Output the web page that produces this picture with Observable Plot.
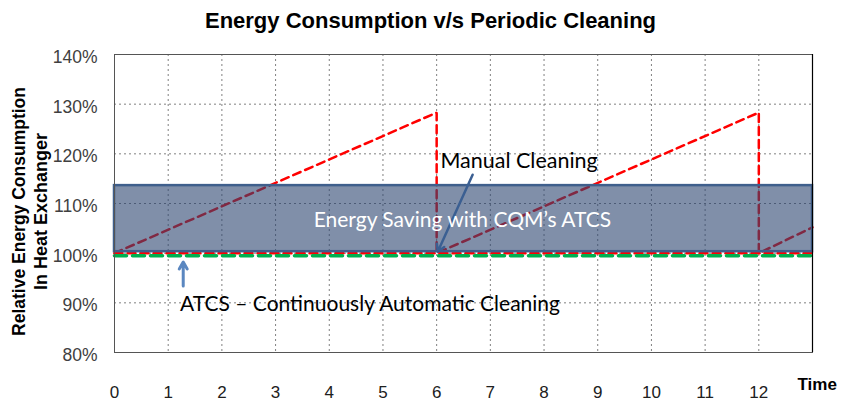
<!DOCTYPE html>
<html>
<head>
<meta charset="utf-8">
<script src="https://cdn.jsdelivr.net/npm/d3@7"></script>
<script src="https://cdn.jsdelivr.net/npm/@observablehq/plot@0.6"></script>
<style>
  html, body { margin: 0; padding: 0; background: #fff; }
  #wrap { width: 853px; position: relative; }
  #title { height: 36px; line-height: 22px; padding-top: 8px; text-align: center; font: bold 22px "Liberation Sans", Arial, sans-serif; color: #000; padding-left: 8px; box-sizing: border-box; overflow: hidden; }
  svg { display: block; }
</style>
</head>
<body>
<div id="wrap">
  <div id="title">Energy Consumption v/s Periodic Cleaning</div>
  <div id="chart"></div>
</div>
<script>
// ---- data ----
const xTicks = [0, 1, 2, 3, 4, 5, 6, 7, 8, 9, 10, 11, 12];
const yTicks = [80, 90, 100, 110, 120, 130, 140];
// periodic (manual) cleaning sawtooth: time, relative energy (%)
const manualTime   = [0, 6, 6, 12, 12, 13];
const manualEnergy = [100, 128.3, 100, 128.3, 100, 105.2];
// continuous automatic cleaning (ATCS)
const atcsTime   = [0, 13];
const atcsEnergy = [100, 100];
// energy saving band
const bandTime = [0, 13];
const bandEnergy = [100.3, 113.6];
// annotations
const noteSaving = {label: "Energy Saving with CQM\u2019s ATCS", t: 6.48, e: 106.6};
const noteManual = {label: "Manual Cleaning", t: 6.07, e: 118.6};
const noteAtcs   = {label: "ATCS \u2013 Continuously Automatic Cleaning", t: 1.22, e: 89.7};
const arrows = [
  {t1: 6.67, e1: 115.8, t2: 6.02, e2: 100.3, color: "#3b5f92", w: 2.5},
  {t1: 1.28, e1: 93.4, t2: 1.28, e2: 98.2, color: "#5b87c0", w: 3}
];

const manual = manualTime.map((t, i) => ({t, e: manualEnergy[i]}));
const atcs = atcsTime.map((t, i) => ({t, e: atcsEnergy[i]}));
const band = [{t1: bandTime[0], t2: bandTime[1], e1: bandEnergy[0], e2: bandEnergy[1]}];

const annFont = "Lato, 'Open Sans', sans-serif";

const chart = Plot.plot({
  width: 853,
  height: 367,
  marginLeft: 114,
  marginRight: 41,
  marginTop: 18,
  marginBottom: 51,
  style: {fontFamily: "'Liberation Sans', Arial, sans-serif", overflow: "visible"},
  x: {domain: [0, 13]},
  y: {domain: [80, 140]},
  marks: [
    Plot.gridX({ticks: xTicks.filter(d => d > 0), stroke: "#808080", strokeOpacity: 1, strokeDasharray: "2,3"}),
    Plot.gridY({ticks: yTicks.filter(d => d > 80 && d < 140), stroke: "#808080", strokeOpacity: 1, strokeDasharray: "2,3"}),
    Plot.axisY({ticks: yTicks, tickSize: 0, tickPadding: 17, dy: 3, tickFormat: d => d + "%", fontSize: 17.5, color: "#404040", label: null}),
    Plot.axisX({ticks: xTicks, tickSize: 0, tickPadding: 33, tickFormat: d => String(d), fontSize: 17, color: "#202020", label: null}),
    Plot.line(atcs, {x: "t", y: "e", stroke: "#ff0000", strokeWidth: 2.5, strokeDasharray: "8,5"}),
    Plot.line(manual, {x: "t", y: "e", stroke: "#ff0000", strokeWidth: 2.5, strokeDasharray: "8,5", strokeLinejoin: "miter"}),
    Plot.rect(band, {x1: "t1", x2: "t2", y1: "e1", y2: "e2", fill: "#2b4470", fillOpacity: 0.6, stroke: "#3f5f8c", strokeWidth: 2.5}),
    Plot.line(atcs, {x: "t", y: "e", stroke: "#00b050", strokeWidth: 3.5, strokeDasharray: "12,6", dy: 2.5}),
    Plot.frame({stroke: "#555555"}),
    Plot.ruleX([13], {stroke: "#000000", strokeWidth: 1.2}),
    Plot.arrow(arrows, {x1: "t1", y1: "e1", x2: "t2", y2: "e2", stroke: d => d.color, strokeWidth: d => d.w, headLength: 12}),
    Plot.text([noteSaving], {x: "t", y: "e", text: "label", fill: "#ffffff", textAnchor: "middle", fontSize: 21, fontFamily: annFont}),
    Plot.text([noteManual], {x: "t", y: "e", text: "label", fill: "#000000", textAnchor: "start", fontSize: 21.5, fontFamily: annFont}),
    Plot.text([noteAtcs], {x: "t", y: "e", text: "label", fill: "#000000", textAnchor: "start", fontSize: 21, fontFamily: annFont}),
    Plot.text(["Time"], {x: 13, frameAnchor: "bottom", dy: 37, dx: -15, textAnchor: "start", fontWeight: "bold", fontSize: 17, fill: "#000"}),
    Plot.text(["Relative Energy Consumption"], {frameAnchor: "left", dx: -95, dy: 8, rotate: -90, textAnchor: "middle", fontWeight: "bold", fontSize: 17.5, fill: "#000"}),
    Plot.text(["In Heat Exchanger"], {frameAnchor: "left", dx: -73, dy: 8, rotate: -90, textAnchor: "middle", fontWeight: "bold", fontSize: 18, fill: "#000"})
  ]
});
document.getElementById("chart").appendChild(chart);
</script>
</body>
</html>
